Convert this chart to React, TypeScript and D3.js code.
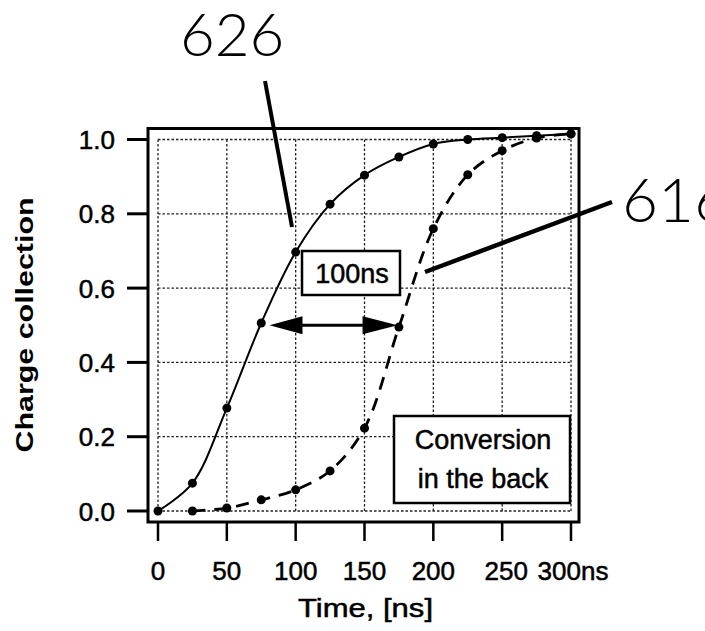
import React from 'react';
import * as d3 from 'd3';

// sample times, ns
const fastTimes = [0, 25, 50, 75, 100, 125, 150, 175, 200, 225, 250, 275, 300];
// curve 626 (front conversion)
const fastCharge = [0.0, 0.075, 0.277, 0.506, 0.697, 0.826, 0.904, 0.953, 0.988, 1.0, 1.005, 1.01, 1.015];

const slowTimes = [25, 50, 75, 100, 125, 150, 175, 200, 225, 250, 275, 300];
// curve 616 (conversion in the back)
const slowCharge = [0.0, 0.008, 0.03, 0.057, 0.108, 0.223, 0.495, 0.76, 0.905, 0.97, 1.004, 1.015];

const xTicks = [0, 50, 100, 150, 200, 250, 300];
const xTickLabels = ['0', '50', '100', '150', '200', '250', '300ns'];
const yTicks = [0, 0.2, 0.4, 0.6, 0.8, 1.0];

const W = 705;
const H = 631;
const FONT = '"Liberation Sans", Arial, sans-serif';
const THIN = 'Lato, "DejaVu Sans", sans-serif';

export default function App() {
  const x = d3.scaleLinear().domain([0, 300]).range([158, 571]);
  const y = d3.scaleLinear().domain([0, 1]).range([511, 139.5]);

  const frame = { left: x(0) - 10, right: x(300) + 8, top: y(1) - 11, bottom: y(0) + 11 };

  const fastPts: [number, number][] = fastTimes.map((t, i) => [t, fastCharge[i]]);
  const slowPts: [number, number][] = slowTimes.map((t, i) => [t, slowCharge[i]]);

  const lineGen = d3
    .line<[number, number]>()
    .x(d => x(d[0]))
    .y(d => y(d[1]))
    .curve(d3.curveCatmullRom.alpha(0.5));

  // arrow spanning 100 ns at half collection
  const ay = y(0.5);
  const aL = x(81);
  const aR = x(174);

  // slightly heavier text, like the scanned print
  const ink = { fill: '#000', stroke: '#000', strokeWidth: 0.5 };

  return (
    <svg
      width={W}
      height={H}
      style={{ position: 'absolute', left: 0, top: 0, background: '#fff' }}
    >
      {/* grid */}
      <g stroke="#222" strokeWidth={1.3} strokeDasharray="2.5,2">
        {xTicks.map(t => (
          <line key={'gx' + t} x1={x(t)} x2={x(t)} y1={y(1)} y2={y(0)} />
        ))}
        {yTicks.map(t => (
          <line key={'gy' + t} x1={x(0)} x2={x(300)} y1={y(t)} y2={y(t)} />
        ))}
      </g>

      {/* frame */}
      <rect
        x={frame.left}
        y={frame.top}
        width={frame.right - frame.left}
        height={frame.bottom - frame.top}
        fill="none"
        stroke="#000"
        strokeWidth={3}
      />

      {/* y ticks */}
      {yTicks.map(t => (
        <g key={'yt' + t}>
          <line x1={frame.left - 21} x2={frame.left} y1={y(t)} y2={y(t)} stroke="#000" strokeWidth={3} />
          <text x={115} y={y(t) + 9.5} textAnchor="end" fontFamily={FONT} fontSize={26} {...ink}>
            {t.toFixed(1)}
          </text>
        </g>
      ))}

      {/* x ticks */}
      {xTicks.map((t, i) => (
        <g key={'xt' + t}>
          <line x1={x(t)} x2={x(t)} y1={frame.bottom} y2={frame.bottom + 19} stroke="#000" strokeWidth={2.5} />
          <text
            x={x(t) + (i === 5 ? 4 : i === 6 ? 2 : 0)}
            y={580}
            textAnchor="middle"
            fontFamily={FONT}
            fontSize={26}
            {...ink}
          >
            {xTickLabels[i]}
          </text>
        </g>
      ))}

      {/* axis titles */}
      <text
        x={298}
        y={617}
        fontFamily={FONT}
        fontSize={26}
        textLength={135}
        lengthAdjust="spacingAndGlyphs"
        {...ink}
      >
        Time, [ns]
      </text>
      <text
        transform="translate(33,325) rotate(-90)"
        textAnchor="middle"
        fontFamily={FONT}
        fontSize={23}
        fontWeight="bold"
        textLength={255}
        lengthAdjust="spacingAndGlyphs"
        fill="#000"
      >
        Charge collection
      </text>

      {/* curves */}
      <path d={lineGen(fastPts) || ''} fill="none" stroke="#000" strokeWidth={2} />
      <path
        d={lineGen(slowPts) || ''}
        fill="none"
        stroke="#000"
        strokeWidth={2.8}
        strokeDasharray="13,9"
      />
      {fastPts.map(d => (
        <circle key={'f' + d[0]} cx={x(d[0])} cy={y(d[1])} r={4.5} fill="#000" />
      ))}
      {slowPts.map(d => (
        <circle key={'s' + d[0]} cx={x(d[0])} cy={y(d[1])} r={4.5} fill="#000" />
      ))}

      {/* 100 ns arrow */}
      <line x1={aL + 20} x2={aR - 20} y1={ay} y2={ay} stroke="#000" strokeWidth={3} />
      <polygon points={`${aL},${ay} ${aL + 33},${ay - 9} ${aL + 33},${ay + 9}`} fill="#000" />
      <polygon points={`${aR},${ay} ${aR - 35},${ay - 9} ${aR - 35},${ay + 9}`} fill="#000" />

      {/* 100ns label */}
      <rect x={302} y={251} width={98} height={44} fill="#fff" stroke="#000" strokeWidth={2.5} />
      <text x={352} y={283} textAnchor="middle" fontFamily={FONT} fontSize={27} {...ink}>
        100ns
      </text>

      {/* legend box */}
      <rect x={394} y={416} width={176} height={87} fill="#fff" stroke="#000" strokeWidth={2.5} />
      <text x={483} y={449} textAnchor="middle" fontFamily={FONT} fontSize={27} {...ink}>
        Conversion
      </text>
      <text x={483} y={488} textAnchor="middle" fontFamily={FONT} fontSize={27} {...ink}>
        in the back
      </text>

      {/* reference numerals */}
      <text x={180} y={56} fontFamily={THIN} fontWeight={300} fontSize={60} fill="#000">
        626
      </text>
      <line x1={265} y1={81} x2={292} y2={227} stroke="#000" strokeWidth={4} />
      <text x={622} y={222} fontFamily={THIN} fontWeight={300} fontSize={62} fill="#000">
        616
      </text>
      <line x1={612} y1={202} x2={425} y2={272} stroke="#000" strokeWidth={4.5} />
    </svg>
  );
}
